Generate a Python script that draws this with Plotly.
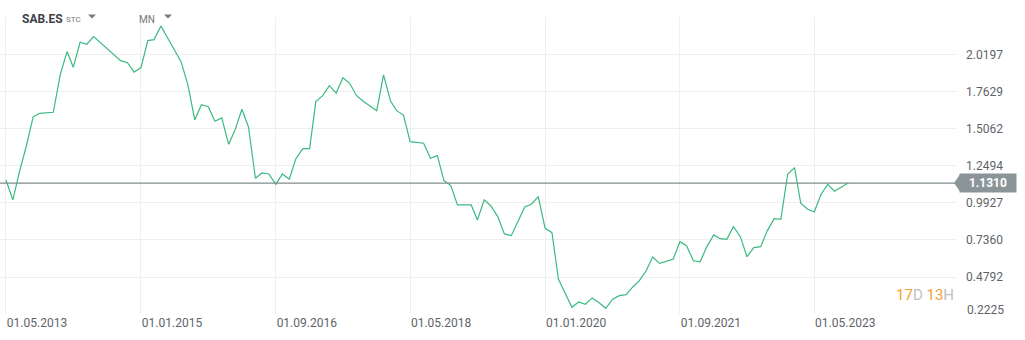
import plotly.graph_objects as go
import pandas as pd

# month offsets from May 2013 and closing values
month_idx = [0, 1, 2, 3, 4, 5, 7, 8, 9, 10, 11, 12, 13, 17, 18, 19, 20, 21, 22, 23,
             26, 27, 28, 29, 30, 31, 32, 33, 34, 35, 36, 37, 38, 39, 40, 41, 42, 43, 44, 45,
             46, 47, 48, 49, 50, 51, 52, 53, 55, 56, 57, 58, 59, 60, 62, 63, 64, 65, 66, 67,
             69, 70, 71, 72, 73, 74, 75, 76, 77, 78, 79, 80, 81, 82, 84, 85, 86, 87, 88, 89,
             90, 91, 92, 93, 94, 95, 96, 97, 99, 100, 101, 102, 103, 104, 105, 106, 107, 108, 109, 110,
             111, 112, 113, 114, 115, 116, 117, 118, 119, 120, 121, 122, 123, 125]
prices = [1.152, 1.014, 1.210, 1.388, 1.592, 1.615, 1.622, 1.881, 2.043, 1.934, 2.108, 2.094, 2.147, 1.980, 1.966, 1.900, 1.932, 2.119, 2.126, 2.221,
          1.973, 1.812, 1.569, 1.675, 1.661, 1.560, 1.583, 1.400, 1.499, 1.643, 1.518, 1.164, 1.201, 1.194, 1.122, 1.194, 1.157, 1.300, 1.370, 1.370,
          1.696, 1.737, 1.807, 1.754, 1.862, 1.823, 1.737, 1.698, 1.633, 1.881, 1.702, 1.633, 1.603, 1.418, 1.407, 1.303, 1.321, 1.148, 1.113, 0.979,
          0.979, 0.875, 1.014, 0.972, 0.898, 0.778, 0.766, 0.870, 0.965, 0.986, 1.037, 0.817, 0.787, 0.465, 0.269, 0.306, 0.290, 0.334, 0.301, 0.262,
          0.325, 0.350, 0.357, 0.412, 0.452, 0.521, 0.618, 0.574, 0.602, 0.724, 0.696, 0.592, 0.585, 0.690, 0.771, 0.745, 0.741, 0.828, 0.759, 0.620,
          0.683, 0.690, 0.801, 0.884, 0.880, 1.192, 1.238, 0.991, 0.949, 0.930, 1.053, 1.122, 1.074, 1.131]

y_ticks = [0.2225, 0.4792, 0.7360, 0.9927, 1.2494, 1.5062, 1.7629, 2.0197]
y_ticktext = ["", "0.4792", "0.7360", "0.9927", "1.2494", "1.5062", "1.7629", "2.0197"]
x_ticks = ["2013-05-01", "2015-01-01", "2016-09-01", "2018-05-01", "2020-01-01", "2021-09-01", "2023-05-01"]
x_ticktext = ["01.05.2013", "01.01.2015", "01.09.2016", "01.05.2018", "01.01.2020", "01.09.2021", "01.05.2023"]
last_price = 1.1310
symbol = "SAB.ES"

start = pd.Timestamp("2013-05-01")
dates = [start + pd.DateOffset(months=m) for m in month_idx]

PLOT_W, PLOT_H, TOP = 957, 297, 17

fig = go.Figure()
fig.add_trace(go.Scatter(x=dates, y=prices, mode="lines",
                         line=dict(color="#3cb982", width=1.2), hoverinfo="skip"))

fig.add_hline(y=last_price, line=dict(color="#7f8c8d", width=1.2))

fig.update_layout(
    width=1025, height=340,
    margin=dict(l=0, r=68, t=TOP, b=26),
    paper_bgcolor="white", plot_bgcolor="white",
    showlegend=False,
    font=dict(family="Roboto", size=12, color="#5f6368"),
    xaxis=dict(range=["2013-04-04", "2025-02-04"], tickvals=x_ticks, ticktext=x_ticktext,
               showgrid=True, gridcolor="#efefef", gridwidth=1, zeroline=False,
               showline=False, ticks="", ticklabelshift=31, tickfont=dict(size=12, color="#5f6368")),
    yaxis=dict(range=[0.2225, 2.283], side="right", tickvals=y_ticks, ticktext=y_ticktext,
               showgrid=True, gridcolor="#efefef", gridwidth=1, zeroline=False,
               showline=False, ticks="", ticklabelstandoff=8, tickfont=dict(size=12, color="#5f6368")),
)

# bottom tick label, nudged up as in the reference
fig.add_annotation(x=1, xref="paper", y=0.2225, yref="y", text="0.2225", showarrow=False,
                   xanchor="left", yanchor="middle", xshift=8, yshift=4,
                   font=dict(family="Roboto", size=12, color="#5f6368"))

# last price badge
fig.add_shape(type="path", xref="paper", yref="y", xsizemode="pixel", ysizemode="pixel",
              xanchor=1, yanchor=last_price, path="M -3,0 L 3,8.5 L 3,-8.5 Z",
              fillcolor="#8b9597", line=dict(width=0))
fig.add_annotation(x=1, xref="paper", y=last_price, yref="y", text="<b>%.4f</b>" % last_price,
                   showarrow=False, xanchor="left", yanchor="middle", xshift=2,
                   bgcolor="#8b9597", borderpad=2, width=52, align="center",
                   font=dict(family="Roboto", size=12, color="white"))


def px_x(px):
    return px / PLOT_W


def px_y(py):
    return 1 + (TOP - py) / PLOT_H


# header texts
hdr = [
    (20, 19, "<b>%s</b>" % symbol, 12, "#3c4247"),
    (64, 20, "STC", 8, "#777777"),
    (137, 20, "MN", 10, "#777777"),
]
for px, py, txt, sz, col in hdr:
    fig.add_annotation(x=px_x(px), y=px_y(py), xref="paper", yref="paper", text=txt,
                       showarrow=False, xanchor="left", yanchor="middle",
                       font=dict(family="Roboto", size=sz, color=col))

# dropdown carets
for cx in (92, 168):
    fig.add_shape(type="path", xref="paper", yref="paper", xsizemode="pixel", ysizemode="pixel",
                  xanchor=px_x(cx), yanchor=px_y(16.5), path="M -4,2 L 4,2 L 0,-2 Z",
                  fillcolor="#7a7a7a", line=dict(width=0))

fig.add_annotation(x=px_x(956), y=px_y(295), xref="paper", yref="paper",
                   text='<span style="color:#f5a033">17</span><span style="color:#bfbfbf">D</span> '
                        '<span style="color:#f5a033">13</span><span style="color:#bfbfbf">H</span>',
                   showarrow=False, xanchor="right", yanchor="middle",
                   font=dict(family="Roboto", size=15))

fig.write_html("out.html")
